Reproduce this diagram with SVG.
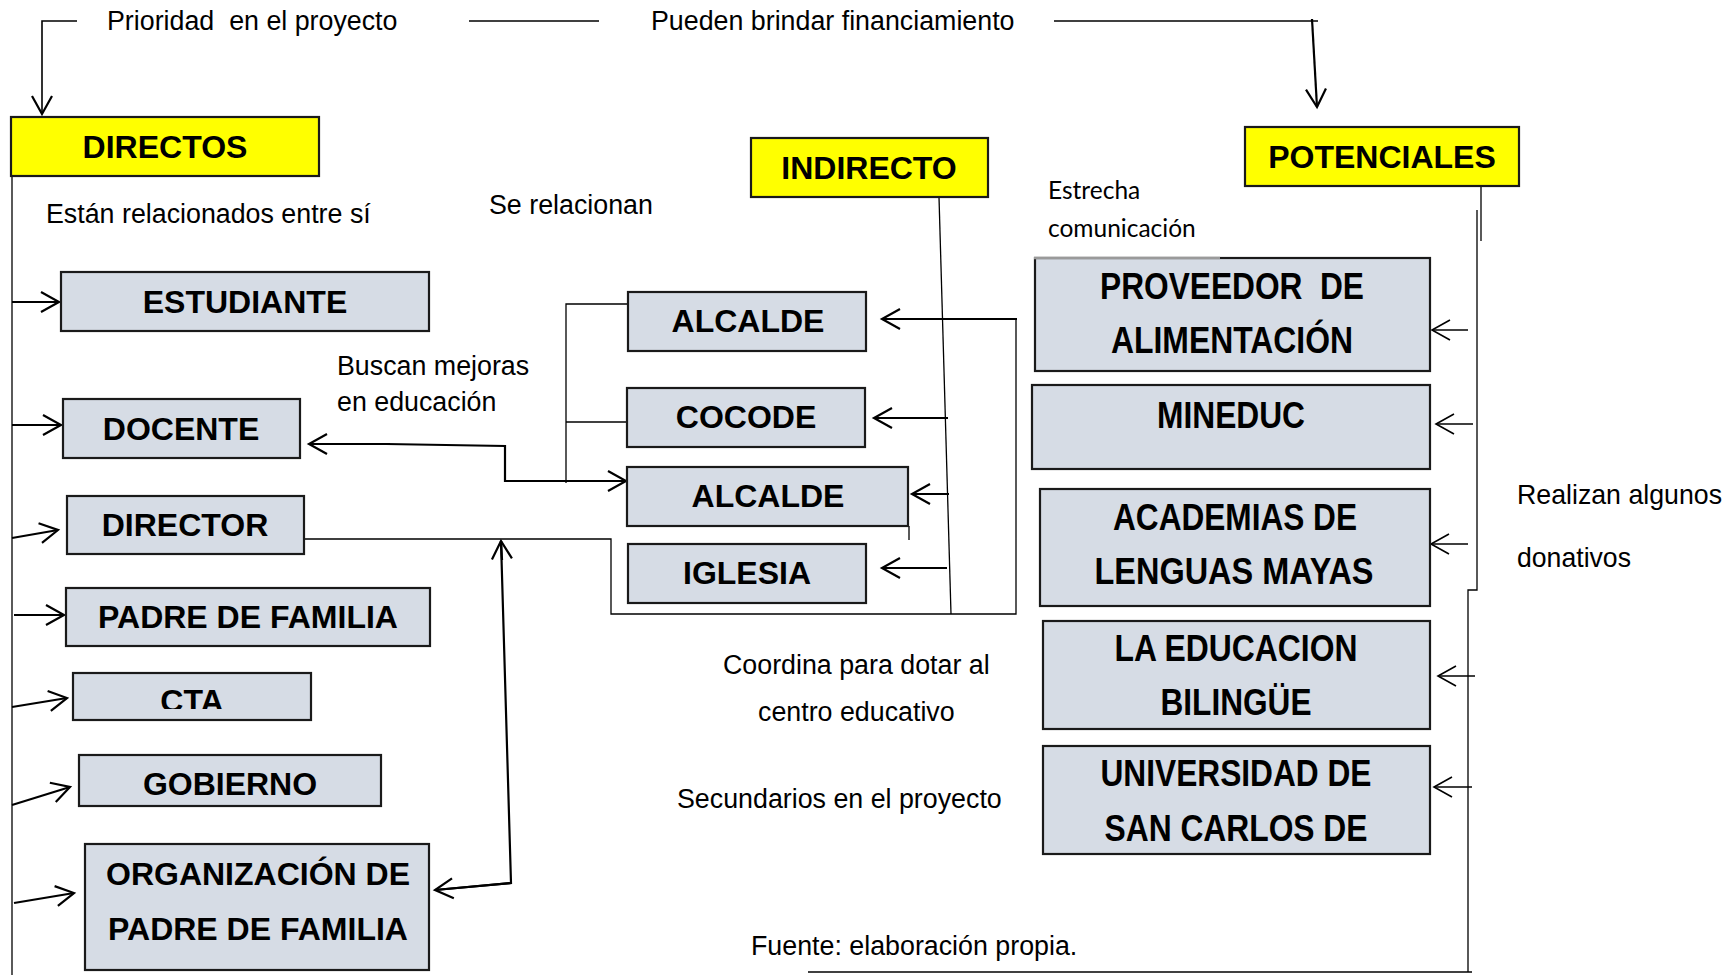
<svg xmlns="http://www.w3.org/2000/svg" width="1735" height="975" viewBox="0 0 1735 975">
<style>
.box{fill:#D6DCE5;stroke:#1a1a1a;stroke-width:2.2}
.ybox{fill:#FFFF00;stroke:#1a1a1a;stroke-width:2.2}
.bt{font-family:"Liberation Sans",Arial,sans-serif;font-weight:bold;font-size:32px;fill:#000;text-anchor:middle}
.nt{font-family:"Liberation Sans Narrow","Liberation Sans",Arial,sans-serif;font-weight:bold;font-size:36px;fill:#000;text-anchor:middle}
.t{font-family:"Liberation Sans",Arial,sans-serif;font-size:26.8px;fill:#000}
.tn{font-family:"Liberation Sans Narrow","Liberation Sans",Arial,sans-serif;font-size:28px;fill:#000}
.tc{font-family:Lato,"Open Sans",sans-serif;font-size:24.5px;fill:#000}
.c{fill:none;stroke:#000;stroke-width:1.3}
.ct{fill:none;stroke:#000;stroke-width:2.2}
.cs{fill:none;stroke:#000;stroke-width:1.6}
</style>
<defs>
<marker id="ah" markerUnits="userSpaceOnUse" markerWidth="24" markerHeight="24" refX="19" refY="11" orient="auto" overflow="visible">
<path d="M1,1 L19,11 L1,21" fill="none" stroke="#000" stroke-width="2.2"/>
</marker>
<marker id="ahs" markerUnits="userSpaceOnUse" markerWidth="24" markerHeight="24" refX="19" refY="11" orient="auto" overflow="visible">
<path d="M1,1 L19,11 L1,21" fill="none" stroke="#000" stroke-width="1.6"/>
</marker>
<clipPath id="ctaclip"><rect x="73" y="673" width="238" height="36"/></clipPath>
</defs>

<g id="connectors">
<polyline class="cs" points="77,21 42,21 42,114" marker-end="url(#ah)"/>
<line class="cs" x1="469" y1="21" x2="599" y2="21"/>
<line class="cs" x1="1054" y1="21" x2="1318" y2="21"/>
<line class="ct" x1="1312" y1="19" x2="1317" y2="107" marker-end="url(#ah)"/>
<line class="c" x1="12" y1="176" x2="12" y2="975"/>
<line class="ct" x1="12" y1="302" x2="59" y2="302" marker-end="url(#ah)"/>
<line class="ct" x1="12" y1="425" x2="61" y2="425" marker-end="url(#ah)"/>
<line class="ct" x1="12" y1="538" x2="58" y2="530" marker-end="url(#ah)"/>
<line class="ct" x1="14" y1="615" x2="64" y2="615" marker-end="url(#ah)"/>
<line class="ct" x1="12" y1="707" x2="67" y2="698" marker-end="url(#ah)"/>
<line class="ct" x1="12" y1="805" x2="70" y2="787" marker-end="url(#ah)"/>
<line class="ct" x1="14" y1="903" x2="74" y2="893" marker-end="url(#ah)"/>
<polyline class="c" points="628,304 566,304 566,483"/>
<line class="c" x1="566" y1="422" x2="628" y2="422"/>
<polyline class="ct" points="386,444 505,446 505,481 626,481" marker-end="url(#ah)"/>
<line class="ct" x1="390" y1="444" x2="309" y2="444" marker-end="url(#ah)"/>
<polyline class="c" points="304,539 611,539 611,614 1016,614 1016,319"/>
<line class="ct" x1="1017" y1="319" x2="882" y2="319" marker-end="url(#ah)"/>
<line class="c" x1="939" y1="197" x2="951" y2="614"/>
<line class="ct" x1="948" y1="418" x2="874" y2="418" marker-end="url(#ah)"/>
<line class="ct" x1="949" y1="494" x2="912" y2="494" marker-end="url(#ah)"/>
<line class="ct" x1="947" y1="568" x2="882" y2="568" marker-end="url(#ah)"/>
<line class="c" x1="909" y1="526" x2="909" y2="540"/>
<polyline class="ct" points="435,890 511,883 501,541"/>
<line class="ct" x1="511" y1="883" x2="435" y2="890" marker-end="url(#ah)"/>
<line class="ct" x1="502" y1="560" x2="501" y2="541" marker-end="url(#ah)"/>
<line class="c" x1="1481" y1="186" x2="1481" y2="241"/>
<polyline class="c" points="1477,210 1477,590 1468,590 1468,972"/>
<line class="c" x1="808" y1="972" x2="1472" y2="972"/>
<line class="cs" x1="1468" y1="330" x2="1432" y2="330" marker-end="url(#ahs)"/>
<line class="cs" x1="1473" y1="424" x2="1436" y2="424" marker-end="url(#ahs)"/>
<line class="cs" x1="1468" y1="544" x2="1431" y2="544" marker-end="url(#ahs)"/>
<line class="cs" x1="1475" y1="676" x2="1438" y2="676" marker-end="url(#ahs)"/>
<line class="cs" x1="1472" y1="787" x2="1434" y2="787" marker-end="url(#ahs)"/>
</g>

<g id="directos"><rect class="ybox" x="11" y="117" width="308" height="59"/><text class="bt" x="165" y="158">DIRECTOS</text></g>
<g id="indirecto"><rect class="ybox" x="751" y="138" width="237" height="59"/><text class="bt" x="869" y="179">INDIRECTO</text></g>
<g id="potenciales"><rect class="ybox" x="1245" y="127" width="274" height="59"/><text class="bt" x="1382" y="168">POTENCIALES</text></g>

<g id="estudiante"><rect class="box" x="61" y="272" width="368" height="59"/><text class="bt" x="245" y="313">ESTUDIANTE</text></g>
<g id="docente"><rect class="box" x="63" y="399" width="237" height="59"/><text class="bt" x="181" y="440">DOCENTE</text></g>
<g id="director"><rect class="box" x="67" y="496" width="237" height="58"/><text class="bt" x="185" y="536">DIRECTOR</text></g>
<g id="padre"><rect class="box" x="66" y="588" width="364" height="58"/><text class="bt" x="248" y="628">PADRE DE FAMILIA</text></g>
<g id="cta"><rect class="box" x="73" y="673" width="238" height="47"/><text class="bt" x="192" y="712" clip-path="url(#ctaclip)">CTA</text></g>
<g id="gobierno"><rect class="box" x="79" y="755" width="302" height="51"/><text class="bt" x="230" y="795">GOBIERNO</text></g>
<g id="organizacion"><rect class="box" x="85" y="844" width="344" height="126"/><text class="bt" x="258" y="885">ORGANIZACIÓN DE</text><text class="bt" x="258" y="940">PADRE DE FAMILIA</text></g>

<g id="alcalde1"><rect class="box" x="628" y="292" width="238" height="59"/><text class="bt" x="748" y="332">ALCALDE</text></g>
<g id="cocode"><rect class="box" x="627" y="388" width="238" height="59"/><text class="bt" x="746" y="428">COCODE</text></g>
<g id="alcalde2"><rect class="box" x="627" y="467" width="281" height="59"/><text class="bt" x="768" y="507">ALCALDE</text></g>
<g id="iglesia"><rect class="box" x="628" y="544" width="238" height="59"/><text class="bt" x="747" y="584">IGLESIA</text></g>

<g id="proveedor"><rect class="box" x="1035" y="258" width="395" height="113"/><line x1="1034" y1="258" x2="1220" y2="258" stroke="#9a9a9a" stroke-width="2.4"/><text class="nt" x="1232" y="299" textLength="264" lengthAdjust="spacingAndGlyphs" xml:space="preserve">PROVEEDOR  DE</text><text class="nt" x="1232" y="353" textLength="242" lengthAdjust="spacingAndGlyphs">ALIMENTACIÓN</text></g>
<g id="mineduc"><rect class="box" x="1032" y="385" width="398" height="84"/><text class="nt" x="1231" y="428" textLength="148" lengthAdjust="spacingAndGlyphs">MINEDUC</text></g>
<g id="academias"><rect class="box" x="1040" y="489" width="390" height="117"/><text class="nt" x="1235" y="530" textLength="244" lengthAdjust="spacingAndGlyphs">ACADEMIAS DE</text><text class="nt" x="1234" y="584" textLength="279" lengthAdjust="spacingAndGlyphs">LENGUAS MAYAS</text></g>
<g id="educacion"><rect class="box" x="1043" y="621" width="387" height="108"/><text class="nt" x="1236" y="661" textLength="243" lengthAdjust="spacingAndGlyphs">LA EDUCACION</text><text class="nt" x="1236" y="715" textLength="151" lengthAdjust="spacingAndGlyphs">BILINGÜE</text></g>
<g id="universidad"><rect class="box" x="1043" y="746" width="387" height="108"/><text class="nt" x="1236" y="786" textLength="271" lengthAdjust="spacingAndGlyphs">UNIVERSIDAD DE</text><text class="nt" x="1236" y="841" textLength="263" lengthAdjust="spacingAndGlyphs">SAN CARLOS DE</text></g>

<g id="labels">
<text class="t" x="107" y="30" xml:space="preserve">Prioridad  en el proyecto</text>
<text class="t" x="651" y="30">Pueden brindar financiamiento</text>
<text class="t" x="46" y="223">Están relacionados entre sí</text>
<text class="t" x="489" y="214">Se relacionan</text>
<text class="tc" x="1048" y="199">Estrecha</text>
<text class="tc" x="1048" y="237">comunicación</text>
<text class="t" x="337" y="375">Buscan mejoras</text>
<text class="t" x="337" y="411">en educación</text>
<text class="t" x="723" y="674">Coordina para dotar al</text>
<text class="t" x="758" y="721">centro educativo</text>
<text class="t" x="677" y="808">Secundarios en el proyecto</text>
<text class="t" x="751" y="955">Fuente: elaboración propia.</text>
<text class="tn" x="1517" y="504" textLength="205" lengthAdjust="spacingAndGlyphs">Realizan algunos</text>
<text class="tn" x="1517" y="567" textLength="114" lengthAdjust="spacingAndGlyphs">donativos</text>
</g>
</svg>
